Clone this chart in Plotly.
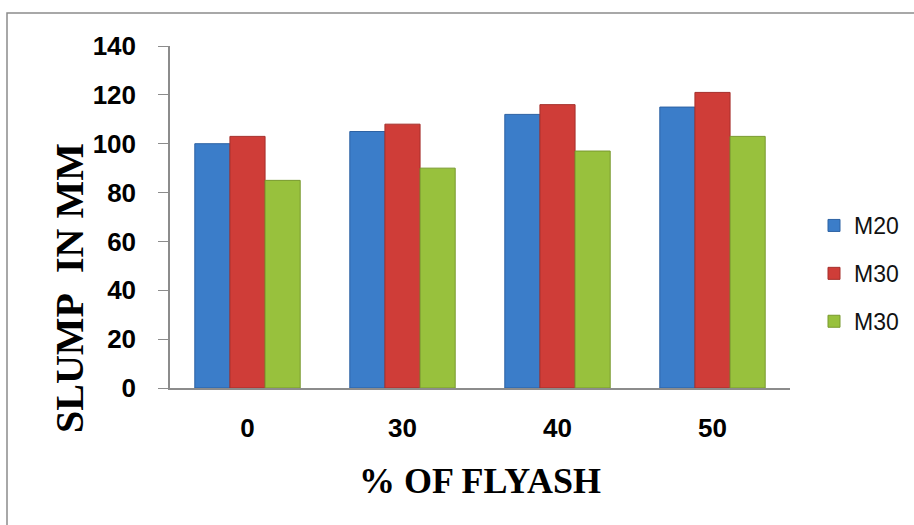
import plotly.graph_objects as go

categories = ["0", "30", "40", "50"]
series_names = ["M20", "M30", "M30"]
m20 = [100, 105, 112, 115]
m30_a = [103, 108, 116, 121]
m30_b = [85, 90, 97, 103]
colors = ["#3b7dc9", "#cf3d38", "#98c13d"]
edge_colors = ["#2d62a3", "#a52f2b", "#78992e"]
y_ticks = [0, 20, 40, 60, 80, 100, 120, 140]
x_title = "% OF FLYASH"
y_title = "SLUMP\u00a0 IN MM"

fig = go.Figure()
for i, (name, vals) in enumerate(zip(series_names, [m20, m30_a, m30_b])):
    fig.add_trace(go.Bar(
        x=categories, y=vals, name=name,
        legendgroup="g%d" % i,
        marker=dict(color=colors[i], line=dict(color=edge_colors[i], width=1)),
    ))

L, R, T, B = 170, 124, 46, 137
W, H = 914, 525
pw, ph = W - L - R, H - T - B

def px_x(p):
    return (p - L) / pw

def px_y(p):
    return (H - B - p) / ph

fig.update_layout(
    width=W, height=H,
    margin=dict(l=L, r=R, t=T, b=B, autoexpand=False),
    paper_bgcolor="white", plot_bgcolor="white",
    barmode="group", bargap=0.32, bargroupgap=0,
    showlegend=True,
    legend=dict(
        x=px_x(814), y=px_y(204), xanchor="left", yanchor="top",
        font=dict(family="Liberation Sans", size=23, color="#111"),
        tracegroupgap=15, bgcolor="rgba(0,0,0,0)",
    ),
    xaxis=dict(
        type="category", showgrid=False, showline=True, linecolor="#8c8c8c",
        linewidth=2, ticks="", ticklabelstandoff=16,
        tickfont=dict(family="Liberation Sans", size=26, color="black", weight="bold"),
        title=dict(text=x_title, standoff=26,
                   font=dict(family="Liberation Serif", size=36, color="black", weight="bold")),
    ),
    yaxis=dict(
        range=[0, 140], tickvals=y_ticks, showgrid=False, showline=True,
        linecolor="#8c8c8c", linewidth=1.5, ticks="outside", ticklen=10,
        tickcolor="#8c8c8c", ticklabelstandoff=17,
        tickfont=dict(family="Liberation Sans", size=26, color="black", weight="bold"),
    ),
    annotations=[dict(
        text="<b>%s</b>" % y_title, xref="paper", yref="paper",
        x=px_x(69), y=px_y(288), xanchor="center", yanchor="middle",
        textangle=-90, showarrow=False,
        font=dict(family="Liberation Serif", size=40, color="black"),
    )],
    shapes=[dict(type="rect", xref="paper", yref="paper",
                 x0=px_x(7), x1=px_x(930), y0=px_y(540), y1=px_y(13),
                 line=dict(color="#8c8c8c", width=1.5), fillcolor="rgba(0,0,0,0)", layer="below")],
)

fig.write_html("out.html")
